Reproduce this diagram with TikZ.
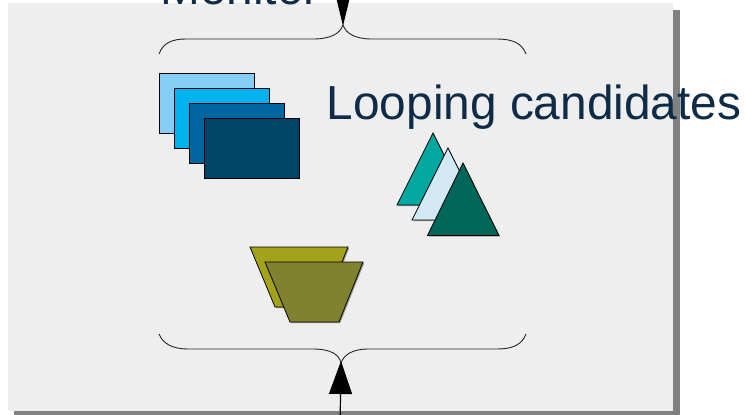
\documentclass[tikz,border=0pt]{standalone}
\usepackage{fontspec}
\setmainfont{Liberation Sans}
\usetikzlibrary{arrows.meta,shadows}

\definecolor{panelgray}{HTML}{EEEEEE}
\definecolor{edgegray}{HTML}{808080}
\definecolor{textnavy}{HTML}{0E2C48}
\definecolor{boxA}{HTML}{87CEF7}
\definecolor{boxB}{HTML}{00B2EE}
\definecolor{boxC}{HTML}{0066A0}
\definecolor{boxD}{HTML}{004468}
\definecolor{triA}{HTML}{00A8A0}
\definecolor{triB}{HTML}{D3E8F5}
\definecolor{triC}{HTML}{006659}
\definecolor{cupA}{HTML}{A4A21A}
\definecolor{cupB}{HTML}{81822F}

\begin{document}
\begin{tikzpicture}[x=1pt,y=-1pt,
  piece/.style={draw=black,line width=0.8pt,drop shadow={shadow xshift=1.2pt,shadow yshift=-1.2pt,fill=black!40,opacity=1}},
  box/.style={piece,rectangle,inner sep=0pt,minimum width=95pt,minimum height=60pt},
  label/.style={text=textnavy,inner sep=0pt,font=\fontsize{47.8}{56}\selectfont},
  brace/.style={draw=black!85,line width=0.9pt}]
\useasboundingbox (0,0) rectangle (745,415);
\clip (0,0) rectangle (745,415);
% panel with its shadow
\fill[edgegray] (14,10) rectangle (680,416);
\fill[panelgray] (8,3) rectangle (673,411);
% stacked cards
\node[box,fill=boxA] (b1) at (206.5,103) {};
\node[box,fill=boxB] (b2) at (221.5,118) {};
\node[box,fill=boxC] (b3) at (236.5,133) {};
\node[box,fill=boxD] (b4) at (251.5,148) {};
% triangles
\draw[piece,fill=triA] (433,133) -- (469,205) -- (397,205) -- cycle;
\draw[piece,fill=triB] (448,148) -- (484,220) -- (412,220) -- cycle;
\draw[piece,fill=triC] (463,163) -- (499,235.5) -- (427.5,235.5) -- cycle;
% cups
\draw[piece,fill=cupA] (250,247) -- (348,247) -- (324,307) -- (275,307) -- cycle;
\draw[piece,fill=cupB] (265,262) -- (363,262) -- (339,322) -- (290,322) -- cycle;
% braces
\coordinate (topTip) at (343,25);
\coordinate (botTip) at (341,363);
\draw[brace] (159,54) .. controls (163,43) and (172,39) .. (186,39) -- (313,39)
  .. controls (330,39) and (340,34) .. (topTip)
  .. controls (346,34) and (356,39) .. (372,39) -- (497,39)
  .. controls (512,39) and (522,43) .. (526,54);
\draw[brace] (159,334) .. controls (163,344) and (173,349) .. (188,349) -- (313,349)
  .. controls (330,349) and (339,354) .. (botTip)
  .. controls (344,354) and (354,349) .. (368,349) -- (497,349)
  .. controls (512,349) and (522,345) .. (526,334);
% arrows
\coordinate (topIn) at (343,-40);
\coordinate (botIn) at (340,430);
\draw[line width=1.2pt,-{Triangle[length=36pt,width=17pt]}] (topIn) -- ([yshift=-1pt]topTip);
\draw[line width=1.2pt,-{Triangle[length=33pt,width=23pt]}] (botIn) -- ([yshift=2pt]botTip);
% labels
\node[label,anchor=base west] (monitor) at (160,5) {Monitor};
\node[label,anchor=base west] (looping) at (326.5,119.5) {Looping candidates};
\end{tikzpicture}
\end{document}
